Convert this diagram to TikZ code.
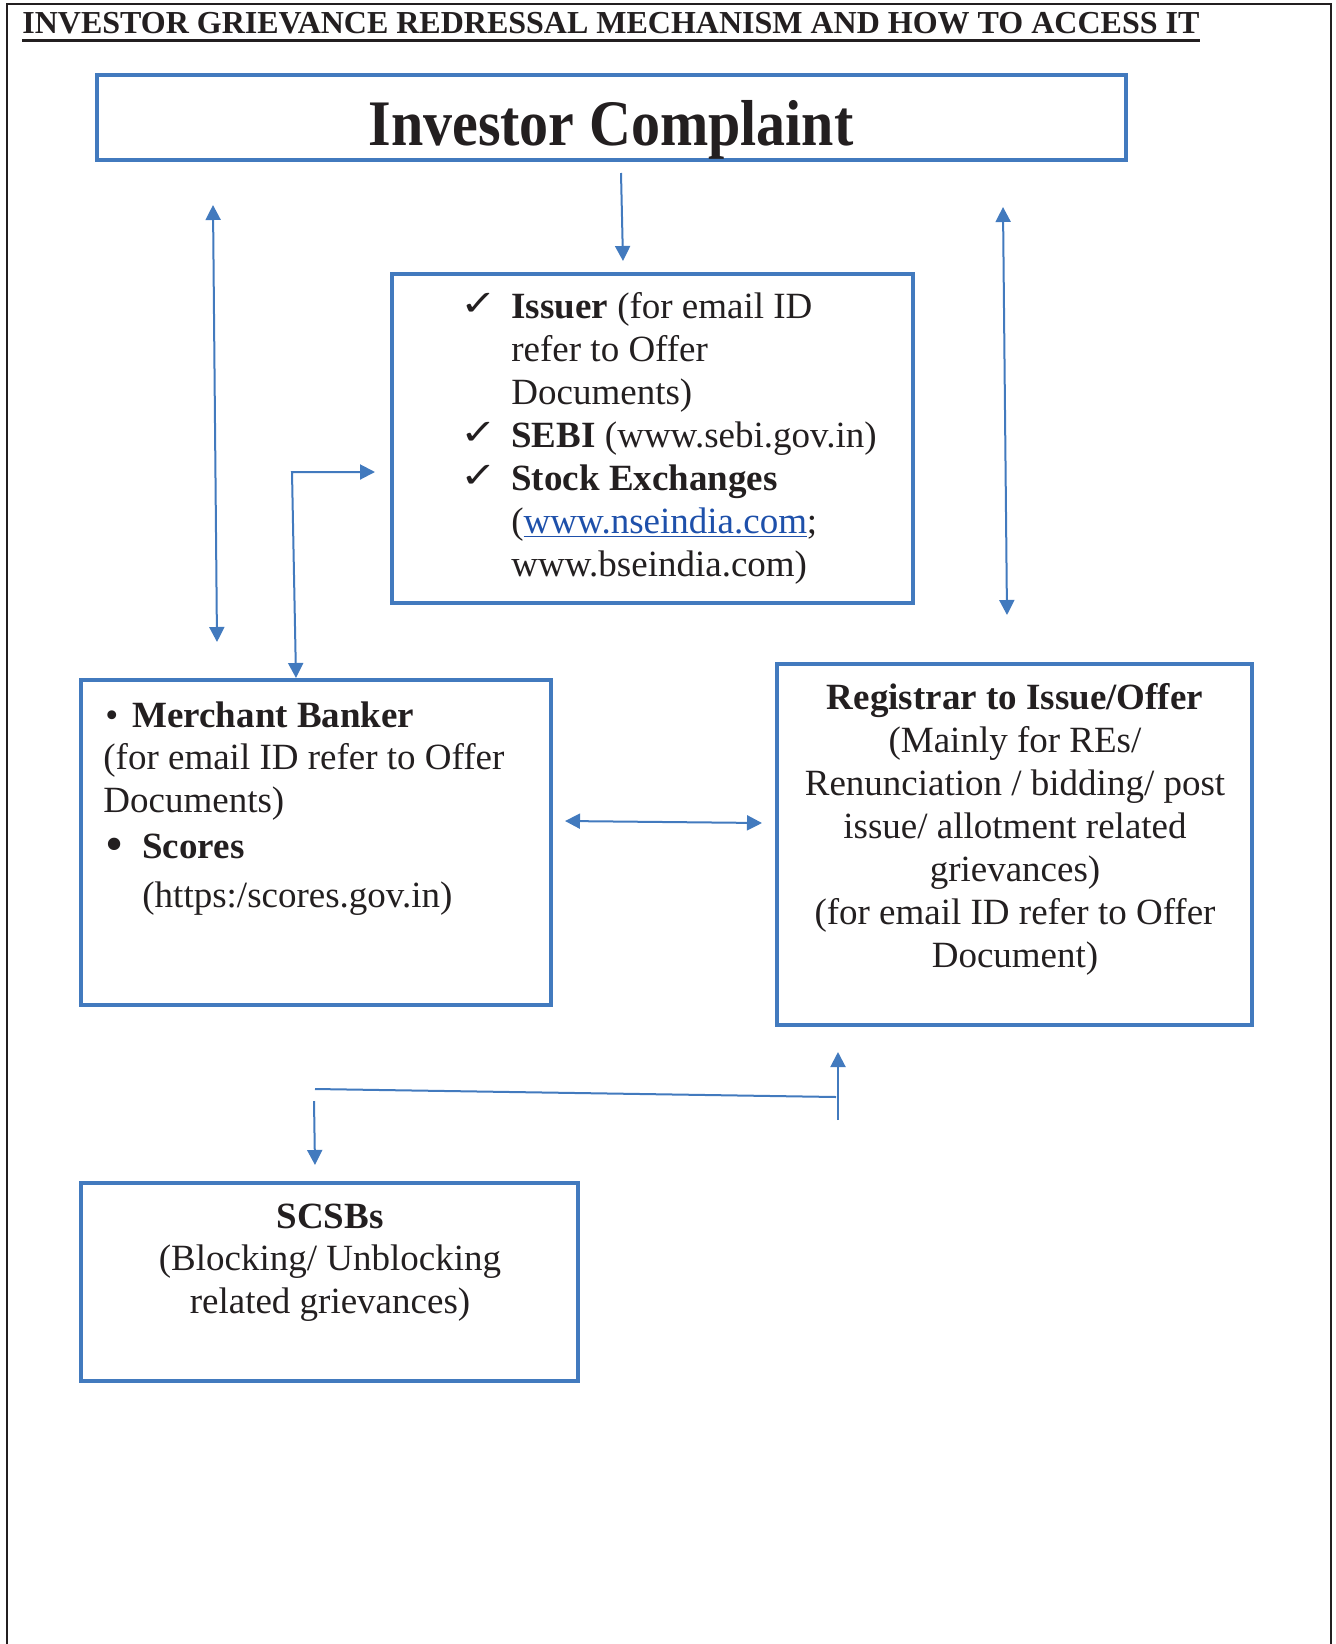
\documentclass[tikz,border=0pt]{standalone}
\usepackage{fontspec}
\setmainfont{Liberation Serif}
\newfontfamily\simboli{DejaVu Sans}
\usetikzlibrary{arrows.meta,fit}

\definecolor{bordoblu}{RGB}{66,122,190}
\definecolor{inchiostro}{RGB}{35,31,32}
\definecolor{collegamento}{RGB}{30,80,170}

\newcommand{\spunta}{\makebox[23pt][l]{\hspace*{-2.5pt}\raisebox{1.5pt}{\scalebox{1}[0.8]{\simboli\fontsize{22}{22}\selectfont ✓}}}}
\newcommand{\rientro}{\hspace*{23pt}}

\begin{document}
\begin{tikzpicture}[x=0.5pt, y=-0.5pt,
        scatola/.style={draw=bordoblu, line width=2pt, inner sep=0pt},
        freccia/.style={draw=bordoblu, line width=1pt},
        testo/.style={inner sep=0pt, text=inchiostro, font=\fontsize{18.5}{21.5}\selectfont},
        >={Triangle[length=7.5pt,width=7.5pt]}]
        \useasboundingbox (0,0) rectangle (1336,1644);

        % Cornice esterna (senza lato inferiore)
        \draw[inchiostro, line width=1pt] (7,1644) -- (7,4) -- (1331,4) -- (1331,1644);

        % Titolo sottolineato
        \node[anchor=base west, inner sep=0pt, text=inchiostro, font=\bfseries\fontsize{16}{16}\selectfont] (titolo) at (22,33) {INVESTOR GRIEVANCE REDRESSAL MECHANISM AND HOW TO ACCESS IT};
        \draw[inchiostro, line width=1.25pt] ([yshift=-3.75pt]titolo.base west) -- ([yshift=-3.75pt]titolo.base east);

        % Riquadri
        \node[scatola, fit={(97,75) (1126,160)}] (compl) {};
        \node[scatola, fit={(392,274) (913,603)}] (issuer) {};
        \node[scatola, fit={(81,680) (551,1005)}] (merch) {};
        \node[scatola, fit={(777,664) (1252,1025)}] (reg) {};
        \node[scatola, fit={(81,1183) (578,1381)}] (scsb) {};

        % Testi dei riquadri (ancorati all'ultima riga)
        \node[anchor=base, inner sep=0pt, text=inchiostro, font=\bfseries\fontsize{29}{29}\selectfont] (compltxt) at (611,145) {\scalebox{1}[1.12]{Investor Complaint}};

        \node[testo, anchor=base west, align=left] (issuertxt) at (465,576) {%
            \spunta\textbf{Issuer} (for email ID\\
            \rientro refer to Offer\\
            \rientro Documents)\\
            \spunta\textbf{SEBI} (www.sebi.gov.in)\\
            \spunta\textbf{Stock Exchanges}\\
            \rientro(\textcolor{collegamento}{\underline{www.nseindia.com}};\\
            \rientro www.bseindia.com)};

        \node[testo, anchor=base west, align=left, font=\fontsize{18.5}{21.25}\selectfont] (mbtxt) at (103,812) {%
            \makebox[14.5pt][l]{\hspace{1pt}\textbullet}\textbf{Merchant Banker}\\
            (for email ID refer to Offer\\
            Documents)};
        \node[testo, anchor=base west, align=left, font=\fontsize{18.5}{24.5}\selectfont] (sctxt) at (105,907) {%
            \makebox[18.5pt][l]{\raisebox{-1.5pt}{\scalebox{1.4}{\textbullet}}}\textbf{Scores}\\
            \hspace*{18.5pt}(https:/scores.gov.in)};

        \node[testo, anchor=base, align=center] (regtxt) at (1015,967) {%
            \textbf{Registrar to Issue/Offer}\\
            (Mainly for REs/\\
            Renunciation / bidding/ post\\
            issue/ allotment related\\
            grievances)\\
            (for email ID refer to Offer\\
            Document)};

        \node[testo, anchor=base, align=center, font=\fontsize{18.5}{21.25}\selectfont] (scsbtxt) at (330,1313) {%
            \textbf{SCSBs}\\
            (Blocking/ Unblocking\\
            related grievances)};

        % Estremi delle frecce
        \coordinate (sxalto) at (213,205);
        \coordinate (sxbasso) at (217,642);
        \coordinate (cealto) at (621,173);
        \coordinate (cebasso) at (623,261);
        \coordinate (dxalto) at (1003,207);
        \coordinate (dxbasso) at (1007,615);
        \coordinate (gomito) at (292,472);
        \coordinate (gomitodx) at (375,472);
        \coordinate (gomitogiu) at (296,678);
        \coordinate (mezzosx) at (565,821);
        \coordinate (mezzodx) at (762,823);
        \coordinate (lineasx) at (315,1089);
        \coordinate (lineadx) at (836,1097);
        \coordinate (sualto) at (838,1052);
        \coordinate (subasso) at (838,1120);
        \coordinate (giualto) at (314,1101);
        \coordinate (giubasso) at (315,1165);

        % Frecce
        \draw[freccia, <->] (sxalto) -- (sxbasso); % Freccia doppia a sinistra
        \draw[freccia, ->] (cealto) -- (cebasso);  % Freccia verso Issuer
        \draw[freccia, <->] (dxalto) -- (dxbasso); % Freccia doppia a destra
        \draw[freccia, <->] (gomitodx) -- (gomito) -- (gomitogiu); % Gomito verso Issuer e Merchant
        \draw[freccia, <->] (mezzosx) -- (mezzodx); % Merchant <-> Registrar

        \draw[freccia] (lineasx) -- (lineadx);     % Linea verso SCSBs
        \draw[freccia, ->] (subasso) -- (sualto);  % Freccia verso Registrar
        \draw[freccia, ->] (giualto) -- (giubasso); % Freccia verso SCSBs
\end{tikzpicture}
\end{document}
